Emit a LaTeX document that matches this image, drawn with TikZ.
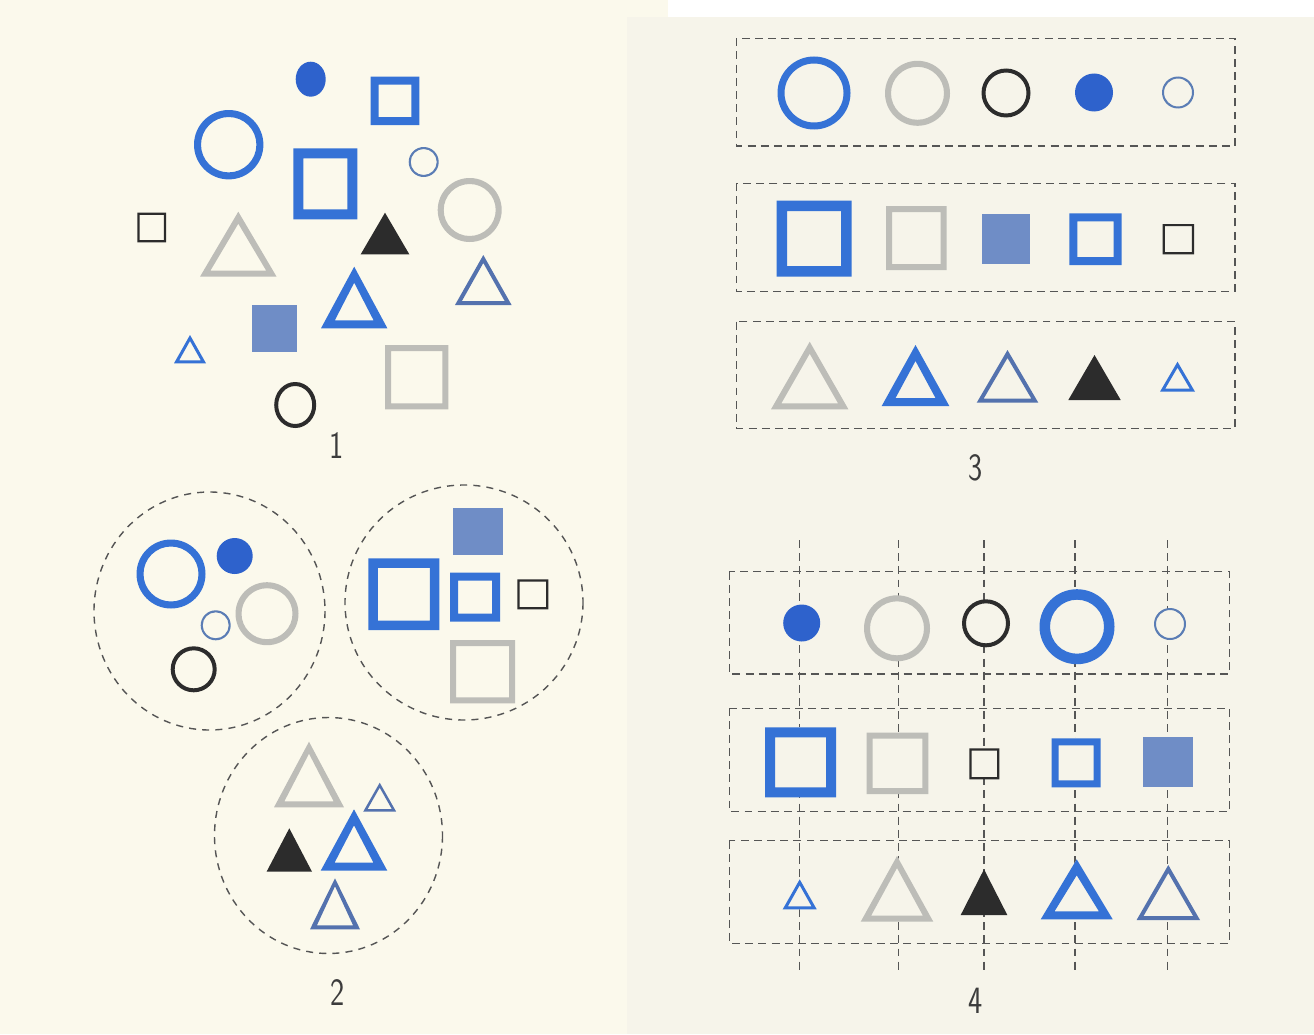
\documentclass[tikz,border=0pt]{standalone}
\usepackage{fontspec}
\definecolor{cblue}{HTML}{3572D6}
\definecolor{cdisc}{HTML}{2E62CC}
\definecolor{cbg}{HTML}{5472AE}
\definecolor{cbfill}{HTML}{6F8DC6}
\definecolor{cgray}{HTML}{BDBDB8}
\definecolor{cblack}{HTML}{2C2C2C}
\definecolor{cthin}{HTML}{5B7DB5}
\definecolor{cdash}{HTML}{555555}
\definecolor{cdig}{HTML}{3C3C3C}
\definecolor{pageL}{HTML}{FBF9EC}
\definecolor{pageR}{HTML}{F6F4EA}
\newcommand{\myring}[5]{\fill[#1,even odd rule] (#2,#3) circle[radius=#4] (#2,#3) circle[radius={#4-#5}];}
\newcommand{\mydisc}[4]{\fill[#1] (#2,#3) circle[radius=#4];}
\newcommand{\mysq}[6]{\fill[#1,even odd rule] (#2,#3) rectangle (#4,#5) ({#2+#6},{#3+#6}) rectangle ({#4-#6},{#5-#6});}
\newcommand{\mysqf}[5]{\fill[#1] (#2,#3) rectangle (#4,#5);}
\newcommand{\mytri}[6]{\fill[#1,even odd rule] (#2,#3) -- ({#2+#5},#4) -- ({#2-#5},#4) -- cycle ({#2},{#3+2*#6}) -- ({#2+#5-1.73*#6},{#4-#6}) -- ({#2-#5+1.73*#6},{#4-#6}) -- cycle;}
\newcommand{\mytrif}[5]{\fill[#1] (#2,#3) -- ({#2+#5},#4) -- ({#2-#5},#4) -- cycle;}
\tikzset{
  dashbox/.style={draw=cdash, line width=0.8pt, dash pattern=on 4.5pt off 3pt},
  dashring/.style={draw=cdash, line width=0.8pt, dash pattern=on 4pt off 3.5pt},
  lab/.style={font=\sffamily\fontsize{22}{22}\selectfont, text=cdig, inner sep=0pt}
}
\begin{document}
\begin{tikzpicture}[x=0.02cm,y=-0.02cm]
\useasboundingbox (0,0) rectangle (1314,1034);
\fill[white] (0,0) rectangle (1314,1034);
\fill[pageL] (0,0) rectangle (668,1034);
\fill[pageR] (627,17) rectangle (1314,1034);

% ---------- Panel 1 ----------
\fill[cdisc] (310.7,79.2) ellipse[x radius=15,y radius=17.5];
\mysq{cblue}{370.7}{76.7}{419.3}{125}{8}
\myring{cblue}{228.7}{144.7}{34.7}{7}
\mysq{cblue}{293.3}{148.3}{357.3}{219.3}{10}
\myring{cthin}{423.7}{162}{15}{2}
\myring{cgray}{469.7}{210}{32}{6}
\mysq{cblack}{137.3}{212.7}{166}{242.3}{2.2}
\mytri{cgray}{238.3}{211.7}{276.7}{38.3}{6}
\mytrif{cblack}{385}{212.7}{254.3}{24.3}
\mytri{cbg}{483.3}{255}{305}{28.3}{4}
\mytri{cblue}{354.2}{266.7}{328.3}{33.2}{8}
\mysqf{cbfill}{251.7}{305}{296.7}{351.7}
\mytri{cblue}{190}{335}{363.3}{16}{3}
\mysq{cgray}{385}{345}{448.3}{409.3}{6}
\fill[cblack,even odd rule] (295.2,405) ellipse[x radius=21,y radius=23] (295.2,405) ellipse[x radius=17,y radius=19];
\node[lab] (lab1) at (336.7,445.5) {\scalebox{0.78}[1]{1}};

% ---------- Panel 2 ----------
\draw[dashring] (209.5,611) ellipse[x radius=115.5,y radius=119];
\draw[dashring] (464,602.5) ellipse[x radius=119,y radius=117.5];
\draw[dashring] (328.5,835.5) ellipse[x radius=114,y radius=118];
\myring{cblue}{171}{574}{34.5}{7}
\mydisc{cdisc}{234.7}{556}{18}
\myring{cgray}{267}{613.7}{31.5}{6}
\myring{cthin}{215.7}{625.3}{15}{2}
\myring{cblack}{193.7}{669.3}{23}{4}
\mysqf{cbfill}{453.3}{508.3}{502.7}{555}
\mysq{cblue}{368.3}{558.3}{439.3}{630}{9.5}
\mysq{cblue}{450}{572.7}{500}{621.7}{8}
\mysq{cblack}{517.3}{579.3}{548.3}{609.3}{2.2}
\mysq{cgray}{450}{640}{515}{703.3}{6}
\mytri{cgray}{309}{741.7}{807.3}{35}{6}
\mytri{cbg}{379.7}{782.7}{811.7}{16.5}{2.5}
\mytrif{cblack}{289.3}{828.3}{871.7}{22.7}
\mytri{cblue}{354}{809.3}{870.7}{33.3}{8}
\mytri{cbg}{335}{878.3}{929.3}{25}{4}
\node[lab] (lab2) at (337.5,992) {\scalebox{0.78}[1]{2}};

% ---------- Panel 3 ----------
\draw[dashbox] (736.7,38.3) rectangle (1235,146);
\draw[dashbox] (736.7,183.3) rectangle (1235,291.7);
\draw[dashbox] (736.7,321.7) rectangle (1235,428.3);
\myring{cblue}{814}{93}{36.5}{7}
\myring{cgray}{917.5}{93.3}{32.5}{6}
\myring{cblack}{1006}{93}{24.5}{4}
\mydisc{cdisc}{1094}{92.5}{19}
\myring{cthin}{1178}{92.5}{16}{2}
\mysq{cblue}{776.7}{200.7}{851.7}{276.7}{10.5}
\mysq{cgray}{886}{206}{946.7}{270}{6}
\mysqf{cbfill}{981.7}{214.3}{1030}{264}
\mysq{cblue}{1069.3}{213.3}{1121.7}{265}{8}
\mysq{cblack}{1162.7}{224}{1194}{254.3}{2.2}
\mytri{cgray}{809.7}{341.7}{409.3}{38.7}{6}
\mytri{cblue}{915.5}{345}{406}{33.8}{8}
\mytri{cbg}{1007.5}{350}{402.7}{30.8}{4}
\mytrif{cblack}{1094.5}{355}{400}{26.2}
\mytri{cblue}{1177.5}{361.7}{391.7}{17.5}{3}
\node[lab] (lab3) at (976,468) {\scalebox{0.78}[1]{3}};

% ---------- Panel 4 ----------
\foreach \xx/\nm in {799.3/a,898.3/b,984/c,1075/d,1167.3/e}{
  \coordinate (top\nm) at (\xx,540);
  \coordinate (bot\nm) at (\xx,971);
  \draw[dashbox] (top\nm) -- (bot\nm);
}
\draw[dashbox] (729.3,571.7) rectangle (1229.3,674);
\draw[dashbox] (729.3,708.3) rectangle (1229.3,811.7);
\draw[dashbox] (729.3,840.7) rectangle (1229.3,943.3);
% opaque interiors
\mydisc{pageR}{897}{628.3}{32}
\mydisc{pageR}{986}{623.3}{23}
\mydisc{pageR}{1077}{626.7}{36}
\mydisc{pageR}{1170}{624}{15}
\mysqf{pageR}{765}{727.3}{836}{797.3}
\mysqf{pageR}{866.7}{732.7}{928.3}{794}
\mysqf{pageR}{969.3}{748.3}{999.3}{779.3}
\mysqf{pageR}{1051.7}{738.3}{1100.7}{787.3}
\mytrif{pageR}{799.7}{879.3}{909.3}{17}
\mytrif{pageR}{897}{856}{921.7}{36.3}
\mytrif{pageR}{1076.7}{859.3}{919.3}{36}
\mytrif{pageR}{1168.3}{865}{920}{31.7}
% shapes
\mydisc{cdisc}{801.7}{623}{18.5}
\myring{cgray}{897}{628.3}{33}{6}
\myring{cblack}{986}{623.3}{24}{4}
\myring{cblue}{1077}{626.7}{37.5}{10.5}
\myring{cthin}{1170}{624}{16}{2}
\mysq{cblue}{765}{727.3}{836}{797.3}{10}
\mysq{cgray}{866.7}{732.7}{928.3}{794}{6}
\mysq{cblack}{969.3}{748.3}{999.3}{779.3}{2.2}
\mysq{cblue}{1051.7}{738.3}{1100.7}{787.3}{7}
\mysqf{cbfill}{1143.3}{736.7}{1193.3}{787.3}
\mytri{cblue}{799.7}{879.3}{909.3}{17}{3}
\mytri{cgray}{897}{856}{921.7}{36.3}{6}
\mytrif{cblack}{984}{869.3}{915}{23.3}
\mytri{cblue}{1076.7}{859.3}{919.3}{36}{8}
\mytri{cbg}{1168.3}{865}{920}{31.7}{4}
\node[lab] (lab4) at (975.5,1001) {\scalebox{0.78}[1]{4}};
\end{tikzpicture}
\end{document}
